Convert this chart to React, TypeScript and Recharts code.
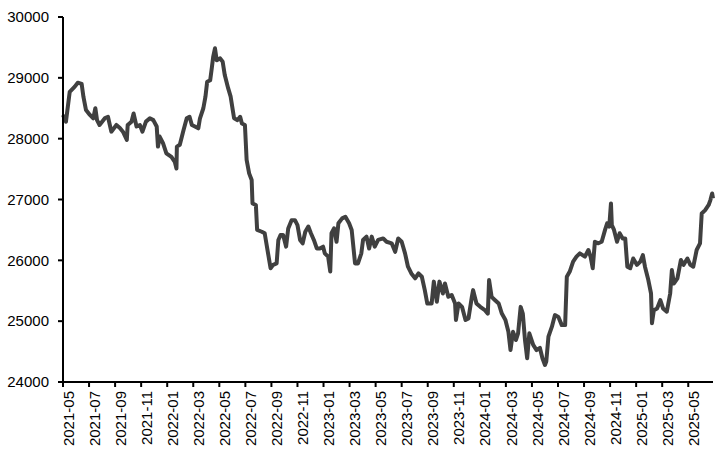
import { LineChart, Line, XAxis, YAxis } from "recharts";

const dates = [
  "2021-05-01", "2021-05-08", "2021-05-17", "2021-05-29", "2021-06-05", "2021-06-14", "2021-06-18", "2021-06-24",
  "2021-07-03", "2021-07-11", "2021-07-16", "2021-07-20", "2021-07-26", "2021-08-08", "2021-08-15", "2021-08-23",
  "2021-09-04", "2021-09-12", "2021-09-19", "2021-09-28", "2021-09-30", "2021-10-09", "2021-10-14", "2021-10-21",
  "2021-10-29", "2021-11-04", "2021-11-12", "2021-11-21", "2021-11-29", "2021-12-07", "2021-12-10", "2021-12-14",
  "2021-12-22", "2021-12-30", "2022-01-11", "2022-01-19", "2022-01-23", "2022-01-24", "2022-01-31", "2022-02-08",
  "2022-02-15", "2022-02-21", "2022-02-26", "2022-03-05", "2022-03-13", "2022-03-17", "2022-03-25", "2022-03-30",
  "2022-04-03", "2022-04-10", "2022-04-14", "2022-04-17", "2022-04-21", "2022-04-25", "2022-05-03", "2022-05-09",
  "2022-05-14", "2022-05-22", "2022-05-28", "2022-06-02", "2022-06-05", "2022-06-13", "2022-06-19", "2022-06-23",
  "2022-06-30", "2022-07-04", "2022-07-10", "2022-07-16", "2022-07-18", "2022-07-26", "2022-07-29", "2022-08-09",
  "2022-08-16", "2022-08-24", "2022-08-30", "2022-09-05", "2022-09-13", "2022-09-17", "2022-09-22", "2022-09-28",
  "2022-10-05", "2022-10-10", "2022-10-18", "2022-10-26", "2022-11-01", "2022-11-07", "2022-11-13", "2022-11-19",
  "2022-11-26", "2022-12-02", "2022-12-09", "2022-12-16", "2022-12-23", "2022-12-31", "2023-01-04", "2023-01-12",
  "2023-01-17", "2023-01-20", "2023-01-26", "2023-02-01", "2023-02-05", "2023-02-13", "2023-02-20", "2023-02-28",
  "2023-03-06", "2023-03-14", "2023-03-21", "2023-03-29", "2023-04-02", "2023-04-10", "2023-04-16", "2023-04-22",
  "2023-04-29", "2023-05-07", "2023-05-19", "2023-05-27", "2023-06-08", "2023-06-16", "2023-06-23", "2023-07-01",
  "2023-07-09", "2023-07-16", "2023-07-24", "2023-08-02", "2023-08-10", "2023-08-18", "2023-08-25", "2023-08-31",
  "2023-09-10", "2023-09-15", "2023-09-22", "2023-09-28", "2023-10-06", "2023-10-11", "2023-10-19", "2023-10-27",
  "2023-11-04", "2023-11-06", "2023-11-12", "2023-11-20", "2023-11-28", "2023-12-05", "2023-12-13", "2023-12-16",
  "2023-12-24", "2024-01-02", "2024-01-13", "2024-01-20", "2024-01-23", "2024-01-29", "2024-02-06", "2024-02-14",
  "2024-02-21", "2024-02-29", "2024-03-07", "2024-03-12", "2024-03-18", "2024-03-25", "2024-03-30", "2024-04-05",
  "2024-04-10", "2024-04-15", "2024-04-20", "2024-04-25", "2024-05-04", "2024-05-12", "2024-05-20", "2024-05-26",
  "2024-06-01", "2024-06-04", "2024-06-09", "2024-06-17", "2024-06-24", "2024-07-02", "2024-07-10", "2024-07-18",
  "2024-07-22", "2024-07-29", "2024-08-06", "2024-08-14", "2024-08-22", "2024-09-03", "2024-09-11", "2024-09-16",
  "2024-09-21", "2024-09-26", "2024-10-04", "2024-10-12", "2024-10-20", "2024-10-25", "2024-10-30", "2024-11-03",
  "2024-11-05", "2024-11-10", "2024-11-17", "2024-11-23", "2024-11-30", "2024-12-06", "2024-12-11", "2024-12-18",
  "2024-12-25", "2025-01-03", "2025-01-11", "2025-01-17", "2025-01-22", "2025-01-30", "2025-02-05", "2025-02-07",
  "2025-02-11", "2025-02-18", "2025-02-25", "2025-03-03", "2025-03-12", "2025-03-20", "2025-03-24", "2025-03-29",
  "2025-04-06", "2025-04-14", "2025-04-20", "2025-04-29", "2025-05-06", "2025-05-13", "2025-05-21", "2025-05-29",
  "2025-06-02", "2025-06-10", "2025-06-18", "2025-06-22", "2025-06-26", "2025-06-28",
];

const prices = [
  28390, 28280, 28770, 28855, 28920, 28900, 28690, 28470,
  28390, 28335, 28500, 28305, 28225, 28340, 28360, 28115,
  28225, 28175, 28115, 27980, 28225, 28280, 28415, 28200,
  28225, 28115, 28280, 28335, 28305, 28200, 27870, 28035,
  27925, 27760, 27700, 27620, 27510, 27870, 27900, 28140,
  28335, 28360, 28225, 28200, 28170, 28335, 28500, 28690,
  28935, 28960, 29180, 29350, 29485, 29290, 29320, 29265,
  29045, 28830, 28690, 28470, 28335, 28305, 28360, 28250,
  28225, 27650, 27430, 27320, 26935, 26910, 26500, 26470,
  26445, 26115, 25870, 25925, 25950, 26335, 26415, 26415,
  26225, 26525, 26660, 26660, 26580, 26335, 26280, 26470,
  26555, 26445, 26335, 26195, 26195, 26225, 26115, 26060,
  25815, 26445, 26525, 26305, 26610, 26690, 26715, 26610,
  26500, 25950, 25950, 26115, 26335, 26390, 26195, 26390,
  26225, 26335, 26360, 26305, 26280, 26140, 26360, 26305,
  26115, 25895, 25785, 25705, 25785, 25730, 25510, 25290,
  25290, 25650, 25320, 25650, 25455, 25620, 25400, 25430,
  25290, 25020, 25290, 25235, 25020, 25045, 25400, 25510,
  25290, 25235, 25180, 25125, 25675, 25400, 25345, 25290,
  25125, 25020, 24825, 24525, 24825, 24690, 24800, 25235,
  25125, 24690, 24390, 24800, 24610, 24525, 24560, 24390,
  24280, 24335, 24745, 24910, 25100, 25070, 24935, 24935,
  25730, 25815, 25980, 26060, 26115, 26060, 26170, 26060,
  25870, 26305, 26280, 26305, 26500, 26610, 26555, 26935,
  26580, 26500, 26305, 26445, 26360, 26360, 25895, 25870,
  26030, 25925, 25980, 26085, 25895, 25675, 25455, 24965,
  25180, 25210, 25345, 25210, 25155, 25455, 25840, 25620,
  25705, 26005, 25925, 26030, 25925, 25895, 26170, 26280,
  26770, 26825, 26910, 26990, 27100, 27020,
];

const tickLabels = [
  "2021-05", "2021-07", "2021-09", "2021-11", "2022-01", "2022-03", "2022-05",
  "2022-07", "2022-09", "2022-11", "2023-01", "2023-03", "2023-05", "2023-07",
  "2023-09", "2023-11", "2024-01", "2024-03", "2024-05", "2024-07", "2024-09",
  "2024-11", "2025-01", "2025-03", "2025-05",
];

const yTicks = [24000, 25000, 26000, 27000, 28000, 29000, 30000];

// months elapsed since 2021-05-01
function monthIndex(d: string) {
  const [y, m, day] = d.split("-").map(Number);
  const dim = new Date(y, m, 0).getDate();
  return (y - 2021) * 12 + (m - 5) + ((day || 1) - 1) / dim;
}

const data = dates.map((d, i) => ({ t: monthIndex(d), price: prices[i] }));
const xTicks = tickLabels.map((l) => monthIndex(l + "-01"));
const labelAt = (v: number) => tickLabels[xTicks.findIndex((x) => Math.abs(x - v) < 0.01)] ?? "";

const font = "'Liberation Sans', Arial, sans-serif";

export default function App() {
  return (
    <div style={{ position: "absolute", left: 0, top: 0, background: "#fff" }}>
      <LineChart
        width={718}
        height={454}
        data={data}
        margin={{ top: 17, right: 5, left: 0, bottom: 0 }}
      >
        <XAxis
          dataKey="t"
          type="number"
          domain={[0, "dataMax"]}
          ticks={xTicks}
          tickFormatter={labelAt}
          interval={0}
          angle={-90}
          textAnchor="end"
          height={72}
          tickSize={5}
          tickMargin={4}
          stroke="#000"
          strokeWidth={2}
          tick={{ fill: "#000", fontSize: 15, fontFamily: font }}
        />
        <YAxis
          domain={[24000, 30000]}
          ticks={yTicks}
          width={63}
          tickSize={5}
          tickMargin={9}
          stroke="#000"
          strokeWidth={2}
          tick={{ fill: "#000", fontSize: 15, fontFamily: font }}
        />
        <Line
          type="linear"
          dataKey="price"
          stroke="#404040"
          strokeWidth={4}
          dot={false}
          strokeLinejoin="round"
          isAnimationActive={false}
        />
      </LineChart>
    </div>
  );
}
